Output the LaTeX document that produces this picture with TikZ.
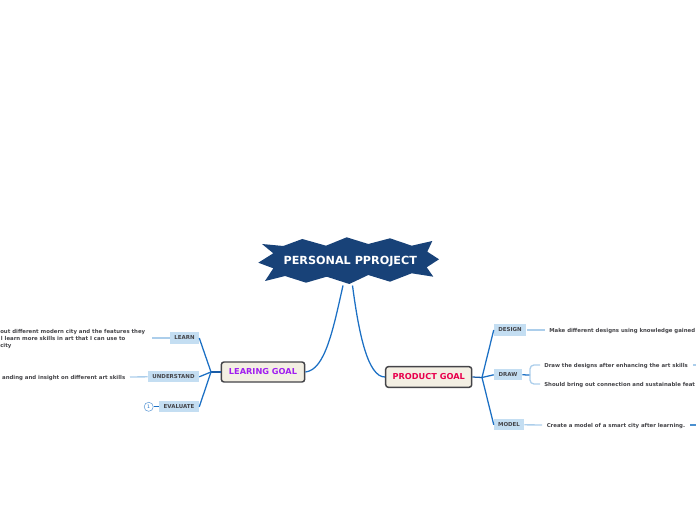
\documentclass[tikz,border=0pt]{standalone}
\usepackage{fontspec}
\setmainfont{DejaVu Sans}
\usepackage{tikz}
\usetikzlibrary{positioning, calc}
\definecolor{mapnavy}{RGB}{24, 66, 120}
\definecolor{mapblue}{RGB}{28, 112, 196}
\definecolor{mapstem}{RGB}{26, 92, 166}
\definecolor{mapstub}{RGB}{74, 144, 208}
\definecolor{maplight}{RGB}{196, 222, 242}
\definecolor{maptwig}{RGB}{172, 206, 235}
\definecolor{mapcream}{RGB}{243, 239, 227}
\definecolor{mapgray}{RGB}{68, 68, 72}
\definecolor{mappurple}{RGB}{160, 30, 240}
\definecolor{mapred}{RGB}{232, 0, 76}
\tikzset{
    goal/.style={rectangle, draw=mapgray, line width=1.1pt, fill=mapcream, rounded corners=2pt, anchor=center, font=\fontsize{6.15pt}{7pt}\selectfont\bfseries},
    topic/.style={rectangle, fill=maplight, inner sep=0pt, minimum height=8.4pt, font=\fontsize{4.1pt}{5pt}\selectfont\bfseries, text=mapgray},
    note/.style={inner sep=0pt, font=\fontsize{4.05pt}{5.4pt}\selectfont\bfseries, text=mapgray, align=left},
    branch/.style={draw=mapblue, line width=0.95pt},
    twig/.style={draw=maptwig, line width=1pt}
}

\begin{document}
\begin{tikzpicture}[x=0.75pt, y=-0.75pt]
    \useasboundingbox (0,0) rectangle (696,520);
    \clip (0,0) rectangle (696,520);

    % Central Topic
    \fill[mapnavy] (262,244) -- (283.3,246) -- (302.3,239) -- (326,245.7) -- (346.7,237.3) -- (368.3,244) -- (390,238.3) -- (411.7,245.7) -- (432.3,241) -- (427.3,251.7) -- (439,259.3) -- (426.7,267.3) -- (433.3,276.7) -- (411.7,273.3) -- (390,281.7) -- (368.3,275) -- (349.3,284) -- (326.7,276.7) -- (306,282.7) -- (285,276) -- (265,281) -- (273.3,268.3) -- (258.3,262.7) -- (273.3,253.3) -- cycle;
    \node[font=\fontsize{8.4pt}{10pt}\selectfont\bfseries, text=white, inner sep=0pt] (root) at (350.3,261) {PERSONAL PPROJECT};
    \coordinate (rootleft) at (343,285.5);
    \coordinate (rootright) at (352.5,285.5);

    % Main Goals
    \node[goal, text=mappurple, minimum width=62.5pt, minimum height=15pt] (learing) at (263,372) {LEARING GOAL};
    \node[goal, text=mapred, minimum width=64.5pt, minimum height=15.5pt] (product) at (428.7,377) {PRODUCT GOAL};
    \draw[branch] (rootleft) .. controls (333,330) and (325,370) .. (learing.east);
    \draw[branch] (rootright) .. controls (359,335) and (368,377) .. (product.west);

    % Learning Side
    \coordinate (leftfork) at (211,372);
    \node[topic, minimum width=21.75pt] (learn) at (184.5,338) {LEARN};
    \node[topic, minimum width=38.25pt] (understand) at (173.5,376.8) {UNDERSTAND};
    \node[topic, minimum width=30pt] (evaluate) at (179,406.8) {EVALUATE};
    \draw[branch, mapstem] (learing.west) -- (leftfork);
    \draw[branch] (leftfork) -- (learn.east);
    \draw[branch] (leftfork) -- (understand.east);
    \draw[branch] (leftfork) -- (evaluate.east);

    \node[note, anchor=north west] (learntext) at (0,328.8) {out different modern city and the features they\\\hspace{0.5pt}l learn more skills in art that I can use to\\city};
    \node[note, anchor=east] (understandtext) at (125.5,378) {anding and insight on different art skills};
    \draw[twig] (152,338) -- (learn.west);
    \draw[twig] (130,377) -- (understand.west);
    \node[circle, draw=mapblue!70, line width=0.4pt, inner sep=0pt, minimum size=6.8pt, font=\fontsize{3.5pt}{4pt}\selectfont, text=mapblue] (evalmark) at (148.7,406.8) {1};
    \draw[branch] (evalmark.east) -- (evaluate.west);

    % Product Side
    \coordinate (rightfork) at (482,377.5);
    \node[topic, minimum width=24pt] (design) at (510,330) {DESIGN};
    \node[topic, minimum width=21pt] (draw) at (508,374.8) {DRAW};
    \node[topic, minimum width=22.5pt] (model) at (509,424.8) {MODEL};
    \draw[branch, mapstem] (product.east) -- (rightfork);
    \draw[branch] (rightfork) -- (design.west);
    \draw[branch] (rightfork) -- (draw.west);
    \draw[branch] (rightfork) -- (model.west);

    \node[note, anchor=west] (designtext) at (549,331) {Make different designs using knowledge gained};
    \node[note, anchor=west] (drawone) at (544,365.9) {Draw the designs after enhancing the art skills};
    \node[note, anchor=west] (drawtwo) at (544,385) {Should bring out connection and sustainable feat};
    \node[note, anchor=west] (modeltext) at (546.5,426) {Create a model of a smart city after learning.};
    \coordinate (bracket) at (530,375);
    \draw[twig] (design.east) ++(1,0) -- (545,330);
    \draw[twig] (model.east) -- (542,425);
    \draw[branch] (draw.east) -- (bracket);
    \draw[twig, rounded corners=3pt] (540,365) -- (530,365) -- (530,384) -- (540,384);
    \draw[twig] (693,365) -- (696,365);
    \draw[branch, mapstub] (690,425) -- (696,425);
\end{tikzpicture}
\end{document}
